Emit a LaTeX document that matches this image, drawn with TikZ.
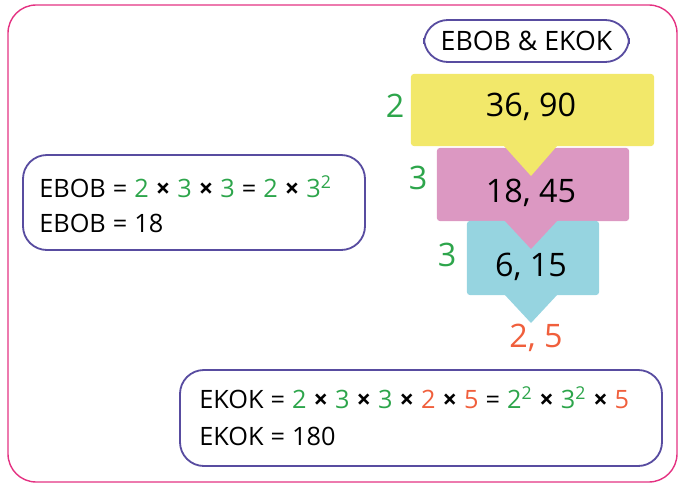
\documentclass[tikz,border=0pt]{standalone}
\usepackage{fontspec}
\setmainfont{Open Sans}
\usetikzlibrary{positioning}
\definecolor{framepink}{RGB}{228,50,130}
\definecolor{boxline}{RGB}{88,76,160}
\definecolor{gr}{RGB}{45,165,75}
\definecolor{orng}{RGB}{240,95,60}
\definecolor{yellowbox}{RGB}{242,232,106}
\definecolor{pinkbox}{RGB}{220,152,194}
\definecolor{bluebox}{RGB}{150,212,224}
\newcommand{\gn}[1]{\textcolor{gr}{#1}}
\newcommand{\og}[1]{\textcolor{orng}{#1}}
\newcommand{\tms}{\hspace{5pt}{\bfseries ×}\hspace{5pt}}
\newcommand{\eq}{\hspace{5pt}=\hspace{5pt}}
\newcommand{\sq}{\textsuperscript{2}}

\begin{document}
\begin{tikzpicture}[x=0.025cm,y=-0.025cm,
  panel/.style={draw=boxline,line width=1.3pt,rounded corners=17pt},
  stepbox/.style={draw=none,rounded corners=2pt,inner sep=0pt},
  bignum/.style={font=\fontsize{23}{27}\selectfont},
  line/.style={anchor=west,font=\fontsize{18}{21}\selectfont,inner sep=0pt}]
\useasboundingbox (0,0) rectangle (686,487);

\draw[draw=framepink,line width=1pt,rounded corners=20pt] (8,5) rectangle (677,482);

\node[panel,minimum width=5.125cm,minimum height=1.05cm,font=\fontsize{19}{22}\selectfont] (title) at (526.5,41) {EBOB \& EKOK};

% division steps
\node[stepbox,fill=yellowbox,minimum width=6.075cm,minimum height=1.8cm] (yellow) at (532.5,110) {};
\node[stepbox,fill=pinkbox,minimum width=4.8cm,minimum height=1.825cm] (pink) at (533,184.5) {};
\fill[yellowbox] (504,146) -- (531,176) -- (557,146) -- cycle;
\node[stepbox,fill=bluebox,minimum width=3.3cm,minimum height=1.85cm] (blue) at (533,258) {};
\fill[pinkbox] (504,220) -- (531,249) -- (558,220) -- cycle;
\fill[bluebox] (504,294) -- (531,323) -- (558,294) -- cycle;

\node[bignum] (n1) at (531,107) {36, 90};
\node[bignum] (n2) at (531,193) {18, 45};
\node[bignum] (n3) at (531,267) {6, 15};
\node[bignum,text=orng] (n4) at (536,338) {2, 5};

\node[bignum,text=gr] (d1) at (395,106) {2};
\node[bignum,text=gr] (d2) at (418,178) {3};
\node[bignum,text=gr] (d3) at (447,255) {3};

% results
\draw[panel] (23,155) rectangle (365,250);
\node[line] (ebob1) at (39,187) {EBOB\eq\gn{2}\tms\gn{3}\tms\gn{3}\eq\gn{2}\tms\gn{3\sq}};
\node[line] (ebob2) at (39,223) {EBOB\eq 18};

\draw[panel] (180,370) rectangle (662,466);
\node[line] (ekok1) at (199,398) {EKOK\eq\gn{2}\tms\gn{3}\tms\gn{3}\tms\og{2}\tms\og{5}\eq\gn{2\sq}\tms\gn{3\sq}\tms\og{5}};
\node[line] (ekok2) at (199,436) {EKOK\eq 180};
\end{tikzpicture}
\end{document}
